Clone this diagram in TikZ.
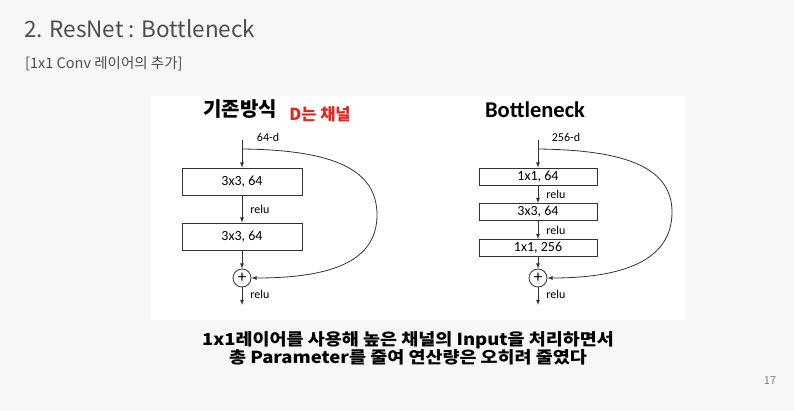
\documentclass[tikz,border=0pt]{standalone}
\usepackage{fontspec}
\setmainfont{Carlito}
\newfontfamily\krfont{Noto Sans CJK KR}
\newfontfamily\krwide[FakeStretch=1.12]{Noto Sans CJK KR}
\usetikzlibrary{positioning}
\definecolor{slidebg}{HTML}{F7F7F7}
\definecolor{titlegray}{HTML}{4D4D4D}
\definecolor{linegray}{HTML}{333333}
\definecolor{notered}{HTML}{E8231B}
\begin{document}
\begin{tikzpicture}[
    x=1pt, y=-1pt,
    % Convolution layer box
    conv box/.style={
        rectangle, draw=linegray, line width=0.8pt, fill=white,
        minimum width=120pt, minimum height=27pt,
        font=\fontsize{14}{15}\selectfont, inner sep=0pt
    },
    % Thin bottleneck layer box
    thin box/.style={
        conv box, minimum width=118pt, minimum height=17pt
    },
    % Addition node
    sum node/.style={
        circle, draw=linegray, line width=0.8pt, fill=white,
        minimum size=18pt, inner sep=0pt,
        font=\fontsize{17}{17}\selectfont
    },
    % Data flow arrow
    flow/.style={
        ->, >=latex, line width=0.8pt, linegray
    },
    % Small label beside arrows
    side label/.style={
        font=\fontsize{12}{12}\selectfont, text=black, inner sep=0pt
    }
]

% --- Slide background ---
\useasboundingbox (0,0) rectangle (794,410);
\fill[slidebg] (0,0) rectangle (794,410);
\fill[white] (150,96) rectangle (685,320);

% --- Slide header ---
\node[font=\krfont\fontsize{22.5}{24}\selectfont, text=titlegray, anchor=west, inner sep=0pt]
    (title) at (24,29) {2. ResNet : Bottleneck};
\node[font=\krfont\fontsize{14.5}{16}\selectfont, text=titlegray, anchor=west, inner sep=0pt]
    (subtitle) at (25,64) {[1x1 Conv 레이어의 추가]};

% --- Left: plain block ---
\node[font=\krfont\bfseries\fontsize{20}{22}\selectfont, inner sep=0pt] (plainhead) at (240,109) {기존방식};
\node[font=\krfont\bfseries\fontsize{16.5}{18}\selectfont, text=notered, inner sep=0pt] (dnote) at (320,114) {D는 채널};
\node[side label] (plaindim) at (268,137) {64-d};
\coordinate (lin) at (242,140);
\coordinate (lsplit) at (242,149);
\node[conv box] (l1) at (242,181.5) {3x3, 64};
\node[conv box] (l2) at (242,236.5) {3x3, 64};
\node[sum node] (lsum) at (242,278) {+};
\coordinate (lout) at (242,305);

\draw[flow] (lin) -- (l1);
\draw[flow] (l1) -- (l2) node[side label, midway, right=8pt] {relu};
\draw[flow] (l2) -- (lsum);
\draw[flow] (lsum) -- (lout) node[side label, midway, right=8pt, yshift=2pt] {relu};
\draw[flow] (lsplit) .. controls (335,150) and (377,170) .. (377,215)
    .. controls (377,262) and (330,278) .. (lsum.east);

% --- Right: bottleneck block ---
\node[font=\bfseries\fontsize{22.5}{24}\selectfont, inner sep=0pt] (bottlehead) at (535,110) {Bottleneck};
\node[side label] (bottledim) at (566,137) {256-d};
\coordinate (rin) at (538,140);
\coordinate (rsplit) at (538,149);
\node[thin box] (r1) at (538,176.5) {1x1, 64};
\node[thin box] (r2) at (538,212) {3x3, 64};
\node[thin box] (r3) at (538,248) {1x1, 256};
\node[sum node] (rsum) at (538,278) {+};
\coordinate (rout) at (538,305);

\draw[flow] (rin) -- (r1);
\draw[flow] (r1) -- (r2) node[side label, midway, right=8pt] {relu};
\draw[flow] (r2) -- (r3) node[side label, midway, right=8pt] {relu};
\draw[flow] (r3) -- (rsum);
\draw[flow] (rsum) -- (rout) node[side label, midway, right=8pt, yshift=2pt] {relu};
\draw[flow] (rsplit) .. controls (620,150) and (672,165) .. (672,212)
    .. controls (672,262) and (620,278) .. (rsum.east);

% --- Caption ---
\node[font=\krwide\bfseries\fontsize{16.5}{18}\selectfont, align=center, inner sep=0pt]
    (caption) at (408,348) {1x1레이어를 사용해 높은 채널의 Input을 처리하면서\\총 Parameter를 줄여 연산량은 오히려 줄였다};

% --- Page number ---
\node[font=\krfont\fontsize{11}{12}\selectfont, text=gray, inner sep=0pt] (pagenum) at (770,381) {17};

\end{tikzpicture}
\end{document}
